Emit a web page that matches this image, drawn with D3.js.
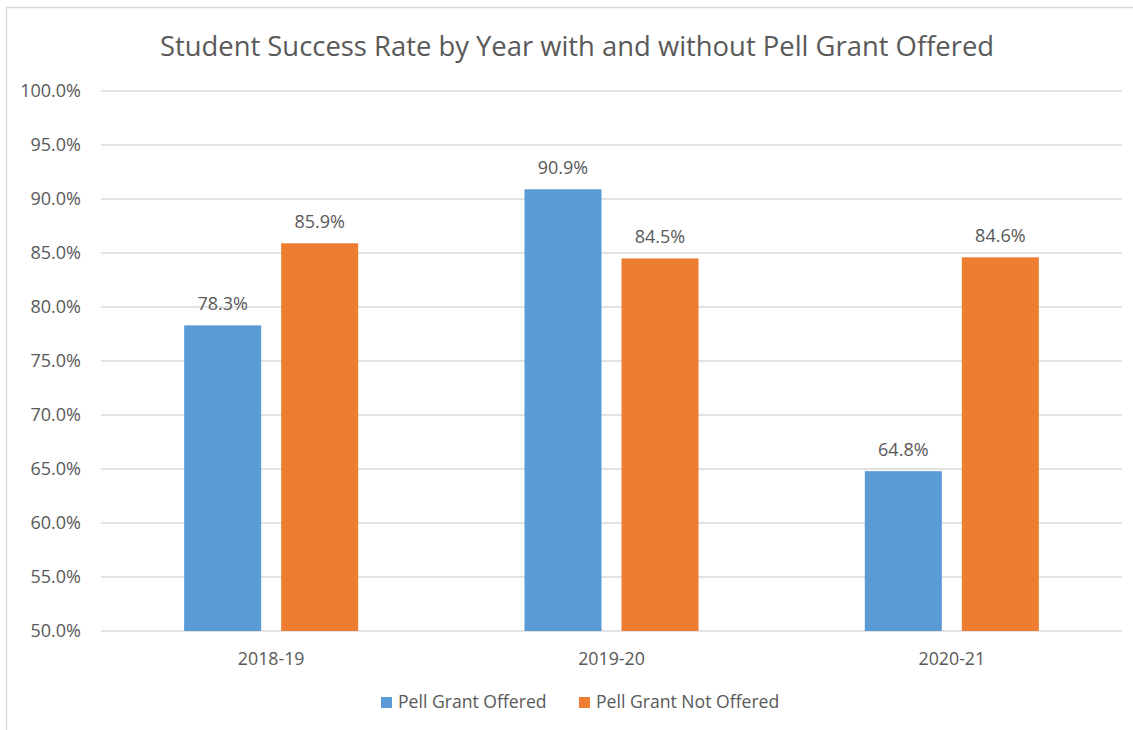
<!DOCTYPE html>
<html>
<head>
<meta charset="utf-8">
<script src="https://cdn.jsdelivr.net/npm/d3@7"></script>
<style>
  html, body { margin: 0; padding: 0; background: #fff; }
  svg { display: block; }
  text { font-family: "Open Sans", sans-serif; fill: #595959; }
</style>
</head>
<body>
<svg id="chart" width="1133" height="730"></svg>
<script>
// Chart data
const years = ["2018-19", "2019-20", "2020-21"];
const seriesNames = ["Pell Grant Offered", "Pell Grant Not Offered"];
const pellOffered = [78.3, 90.9, 64.8];
const pellNotOffered = [85.9, 84.5, 84.6];
const yTicks = [50, 55, 60, 65, 70, 75, 80, 85, 90, 95, 100];
const seriesColors = ["#5B9BD5", "#ED7D31"];
const titleText = "Student Success Rate by Year with and without Pell Grant Offered";

const svg = d3.select("#chart");
const W = 1133, H = 730;
const plot = { left: 101, right: 1122, top: 91, bottom: 631 };
const FONT = "'Open Sans', sans-serif";

// chart frame: only the top and left edges fall inside the view
svg.append("path")
  .attr("d", `M6.5,${H} L6.5,7.5 L${W},7.5`)
  .attr("fill", "none").attr("stroke", "#d9d9d9").attr("stroke-width", 1.5);

const y = d3.scaleLinear().domain([50, 100]).range([plot.bottom, plot.top]);
const x0 = d3.scaleBand().domain(years).range([plot.left, plot.right]).paddingInner(0).paddingOuter(0);
const x1 = d3.scaleBand().domain(seriesNames)
  .range([0, x0.bandwidth()]).paddingInner(0.206).paddingOuter(0.857);

// gridlines
svg.append("g").selectAll("line").data(yTicks).join("line")
  .attr("x1", plot.left).attr("x2", plot.right)
  .attr("y1", d => y(d)).attr("y2", d => y(d))
  .attr("stroke", "#d9d9d9").attr("stroke-width", 1.3);

// y axis labels
const yAxis = d3.axisLeft(y).tickValues(yTicks).tickSize(0).tickPadding(0)
  .tickFormat(d => d.toFixed(1) + "%");
const gy = svg.append("g").attr("transform", `translate(81,0)`).call(yAxis);
gy.select(".domain").remove();
gy.selectAll("text").attr("font-size", 18).attr("font-family", FONT).attr("fill", "#595959");

// x axis labels
const xAxis = d3.axisBottom(x0).tickSize(0).tickPadding(0);
const gx = svg.append("g").attr("transform", `translate(0,${plot.bottom + 21})`).call(xAxis);
gx.select(".domain").remove();
gx.selectAll("text").attr("font-size", 17.8).attr("font-family", FONT).attr("fill", "#595959");

// bars
const rows = years.map((yr, i) => ({ yr, vals: [pellOffered[i], pellNotOffered[i]] }));
const groups = svg.append("g").selectAll("g").data(rows).join("g")
  .attr("transform", d => `translate(${x0(d.yr)},0)`);
groups.selectAll("rect").data(d => d.vals.map((v, j) => ({ v, name: seriesNames[j], j })))
  .join("rect")
  .attr("x", d => x1(d.name))
  .attr("width", x1.bandwidth())
  .attr("y", d => y(d.v))
  .attr("height", d => y(50) - y(d.v))
  .attr("fill", d => seriesColors[d.j]);

// value labels
groups.selectAll("text.val").data(d => d.vals.map((v, j) => ({ v, name: seriesNames[j], j })))
  .join("text").attr("class", "val")
  .attr("x", d => x1(d.name) + x1.bandwidth() / 2)
  .attr("y", d => y(d.v) - 15)
  .attr("text-anchor", "middle")
  .attr("font-size", 18)
  .text(d => d.v.toFixed(1) + "%");

// title
svg.append("text")
  .attr("x", 577).attr("y", 56)
  .attr("text-anchor", "middle")
  .attr("font-size", 27.4)
  .text(titleText);

// legend
const legendItems = [
  { name: seriesNames[0], color: seriesColors[0], x: 381 },
  { name: seriesNames[1], color: seriesColors[1], x: 579 }
];
const lg = svg.append("g").selectAll("g").data(legendItems).join("g")
  .attr("transform", d => `translate(${d.x},0)`);
lg.append("rect").attr("x", 0).attr("y", 697).attr("width", 11).attr("height", 11)
  .attr("fill", d => d.color);
lg.append("text").attr("x", 17).attr("y", 708).attr("font-size", 17.6)
  .text(d => d.name);
</script>
</body>
</html>
